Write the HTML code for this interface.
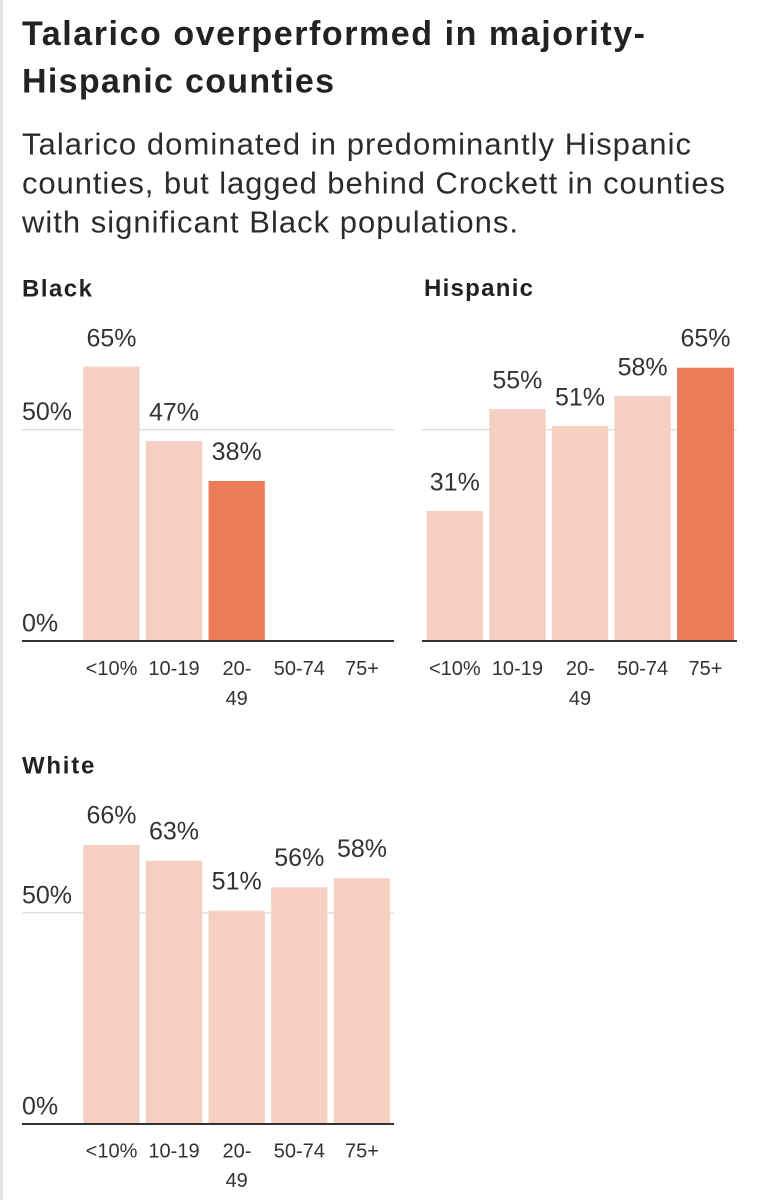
<!DOCTYPE html>
<html>
<head>
<meta charset="utf-8">
<style>
  html, body { margin: 0; padding: 0; background: #ffffff; }
  body { width: 757px; height: 1200px; overflow: hidden; }
  svg { display: block; }
  text { font-family: "Liberation Sans", Arial, sans-serif; fill: #2b2b2b; }
  .title { font-weight: bold; font-size: 34px; fill: #222; }
  .sub { font-size: 31px; fill: #2b2b2b; }
  .hdr { font-weight: bold; font-size: 24px; fill: #222; }
  .ax { font-size: 25px; fill: #333; }
  .val { font-size: 25px; fill: #333; text-anchor: middle; }
  .xl { font-size: 20px; fill: #333; text-anchor: middle; }
</style>
</head>
<body>
<svg width="757" height="1200" viewBox="0 0 757 1200" xmlns="http://www.w3.org/2000/svg">
  <rect x="0" y="0" width="757" height="1200" fill="#ffffff"/>
  <rect x="0" y="0" width="3" height="1200" fill="#e3e3e3"/>

  <!-- Title -->
  <text class="title" x="22" y="45" textLength="623" lengthAdjust="spacing">Talarico overperformed in majority-</text>
  <text class="title" x="22" y="92.5" textLength="312" lengthAdjust="spacing">Hispanic counties</text>

  <!-- Subtitle -->
  <text class="sub" x="22" y="154.5" textLength="669" lengthAdjust="spacing">Talarico dominated in predominantly Hispanic</text>
  <text class="sub" x="22" y="193.5" textLength="703" lengthAdjust="spacing">counties, but lagged behind Crockett in counties</text>
  <text class="sub" x="22" y="232.7" textLength="496" lengthAdjust="spacing">with significant Black populations.</text>

  <!-- ===== Black ===== -->
  <text class="hdr" x="22" y="296.5" textLength="70" lengthAdjust="spacing">Black</text>
  <rect x="22" y="429" width="372" height="1.3" fill="#dcdcdc"/>
  <text class="ax" x="22" y="420">50%</text>
  <text class="ax" x="22" y="631.5">0%</text>
  <rect x="83.3" y="366.7" width="56.3" height="273.3" fill="#f6cfc3"/>
  <rect x="145.9" y="441" width="56.3" height="199" fill="#f6cfc3"/>
  <rect x="208.5" y="481" width="56.3" height="159" fill="#ec7c59"/>
  <rect x="22" y="640" width="372" height="2" fill="#333"/>
  <text class="val" x="111.5" y="346.5">65%</text>
  <text class="val" x="174" y="420.5">47%</text>
  <text class="val" x="236.7" y="460">38%</text>
  <text class="xl" x="111.5" y="675">&lt;10%</text>
  <text class="xl" x="174" y="675">10-19</text>
  <text class="xl" x="237" y="675">20-</text>
  <text class="xl" x="236.7" y="705">49</text>
  <text class="xl" x="299.3" y="675">50-74</text>
  <text class="xl" x="362" y="675">75+</text>

  <!-- ===== Hispanic ===== -->
  <text class="hdr" x="424" y="296" textLength="109" lengthAdjust="spacing">Hispanic</text>
  <rect x="422" y="429" width="315" height="1.3" fill="#dcdcdc"/>
  <rect x="426.7" y="511" width="56.3" height="129" fill="#f6cfc3"/>
  <rect x="489.3" y="409" width="56.3" height="231" fill="#f6cfc3"/>
  <rect x="551.9" y="426" width="56.3" height="214" fill="#f6cfc3"/>
  <rect x="614.5" y="396" width="56.3" height="244" fill="#f6cfc3"/>
  <rect x="677.1" y="367.7" width="56.8" height="272.3" fill="#ec7c59"/>
  <rect x="422" y="640" width="315" height="2" fill="#333"/>
  <text class="val" x="454.8" y="490.5">31%</text>
  <text class="val" x="517.4" y="388.5">55%</text>
  <text class="val" x="580" y="405.5">51%</text>
  <text class="val" x="642.6" y="375.5">58%</text>
  <text class="val" x="705.5" y="346.7">65%</text>
  <text class="xl" x="454.8" y="675">&lt;10%</text>
  <text class="xl" x="517.4" y="675">10-19</text>
  <text class="xl" x="580.3" y="675">20-</text>
  <text class="xl" x="580" y="705">49</text>
  <text class="xl" x="642.6" y="675">50-74</text>
  <text class="xl" x="705.5" y="675">75+</text>

  <!-- ===== White ===== -->
  <text class="hdr" x="22" y="773.3" textLength="72.3" lengthAdjust="spacing">White</text>
  <rect x="22" y="912.2" width="372" height="1.3" fill="#dcdcdc"/>
  <text class="ax" x="22" y="903.3">50%</text>
  <text class="ax" x="22" y="1114.5">0%</text>
  <rect x="83.3" y="845" width="56.3" height="278" fill="#f6cfc3"/>
  <rect x="145.9" y="860.7" width="56.3" height="262.3" fill="#f6cfc3"/>
  <rect x="208.5" y="910.7" width="56.3" height="212.3" fill="#f6cfc3"/>
  <rect x="271.1" y="887.3" width="56.3" height="235.7" fill="#f6cfc3"/>
  <rect x="333.7" y="878.3" width="56.3" height="244.7" fill="#f6cfc3"/>
  <rect x="22" y="1123" width="372" height="2" fill="#333"/>
  <text class="val" x="111.5" y="823.5">66%</text>
  <text class="val" x="174" y="839.5">63%</text>
  <text class="val" x="236.7" y="889.5">51%</text>
  <text class="val" x="299.3" y="866">56%</text>
  <text class="val" x="362" y="857">58%</text>
  <text class="xl" x="111.5" y="1157.5">&lt;10%</text>
  <text class="xl" x="174" y="1157.5">10-19</text>
  <text class="xl" x="237" y="1157.5">20-</text>
  <text class="xl" x="236.7" y="1187">49</text>
  <text class="xl" x="299.3" y="1157.5">50-74</text>
  <text class="xl" x="362" y="1157.5">75+</text>
</svg>
</body>
</html>
